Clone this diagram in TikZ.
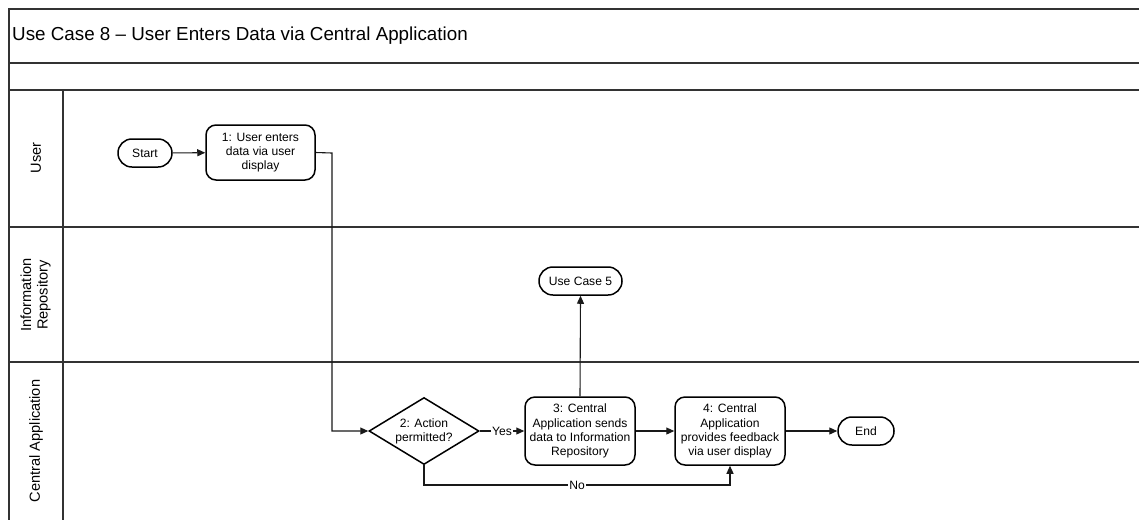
\documentclass[tikz,border=0pt]{standalone}
\usepackage{fontspec}
\setmainfont{Liberation Sans}
\usetikzlibrary{arrows.meta,shapes.geometric}

\newcommand{\boxfont}{\fontsize{12.1}{14.2}\selectfont}
\newcommand{\lanefont}{\fontsize{14.6}{16.5}\selectfont}
\newcommand{\headfont}{\fontsize{18.8}{22}\selectfont}

\tikzset{
  lane/.style={line width=1.5pt, draw=black!80},
  terminal/.style={draw=black, line width=1.5pt, rounded corners=13.9pt,
    minimum height=28pt, inner sep=0pt, font=\boxfont, fill=white},
  process/.style={draw=black, line width=1.5pt, rounded corners=10pt,
    minimum width=110pt, minimum height=68pt, inner sep=0pt, align=center,
    font=\boxfont, fill=white},
  decision/.style={draw=black, line width=1.5pt, shape=diamond, aspect=1.64,
    minimum width=110pt, minimum height=67pt, inner sep=0pt, align=center,
    font=\boxfont, fill=white},
  flow/.style={line width=1.1pt, draw=black!90,
    -{Triangle[length=8pt,width=7pt]}},
  lbl/.style={fill=white, inner sep=0.8pt, font=\boxfont},
  lanelabel/.style={rotate=90, align=center, font=\lanefont, inner sep=0pt}
}

\begin{document}
\begin{tikzpicture}[x=1pt,y=-1pt]
  \useasboundingbox (0,0) rectangle (1139,520);
  \fill[white] (0,0) rectangle (1139,520);

  % pool frame and lanes
  \draw[lane] (1139,9) -- (9,9) -- (9,520);
  \draw[lane] (9,63) -- (1139,63);
  \draw[lane] (9,90) -- (1139,90);
  \draw[lane] (9,227) -- (1139,227);
  \draw[lane] (9,362) -- (1139,362);
  \draw[lane] (63,90) -- (63,520);

  \node[anchor=west, inner sep=0pt, font=\headfont] (title) at (12,36)
    {Use Case 8 – User Enters Data via Central Application};

  \node[lanelabel] (laneUser) at (36,158) {User};
  \node[lanelabel] (laneRepo) at (35.5,295) {Information\\Repository};
  \node[lanelabel] (laneApp) at (36,441) {Central Application};

  % flow elements
  \node[terminal, minimum width=54pt] (start) at (145,153) {Start};
  \node[process, minimum width=109pt, minimum height=55pt] (n1) at (260.5,152.5)
    {1: User enters\\data via user\\display};
  \node[decision] (dec) at (424,431) {2: Action\\permitted?};
  \node[process] (n3) at (580,431)
    {3: Central\\Application sends\\data to Information\\Repository};
  \node[process] (n4) at (730,431)
    {4: Central\\Application\\provides feedback\\via user display};
  \node[terminal, minimum width=83pt] (uc5) at (580.5,281) {Use Case 5};
  \node[terminal, minimum width=56pt] (end) at (866,431) {End};

  % connectors
  \coordinate (bendA) at (332,153);
  \coordinate (bendNo) at (730,485);
  \draw[flow] (start) -- (n1);
  \draw[flow] (n1.east) -- (bendA) |- (dec.west);
  \draw[flow] (dec.east) -- node[lbl] {Yes} (n3.west);
  \draw[flow] (n3.north) -- (uc5.south);
  \draw[flow] (n3.east) -- (n4.west);
  \draw[flow] (n4.east) -- (end.west);
  \draw[flow] (dec.south) |- node[lbl, pos=0.75] {No} (bendNo) -- (n4.south);
\end{tikzpicture}
\end{document}
